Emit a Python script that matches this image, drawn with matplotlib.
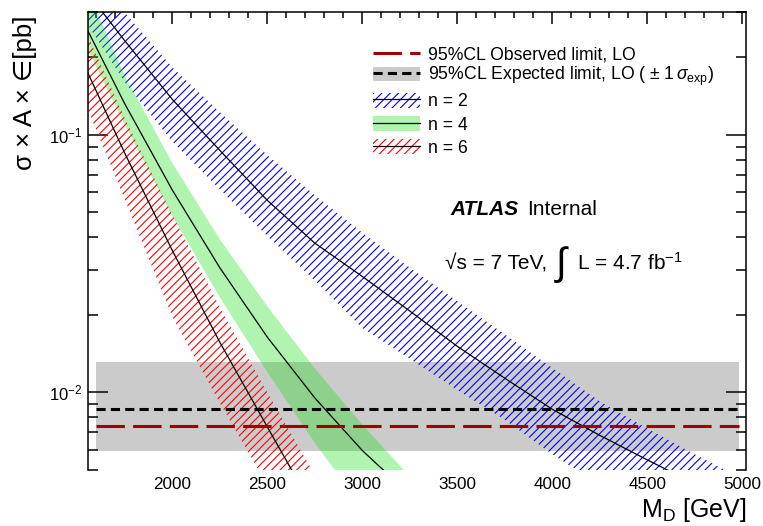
import matplotlib
matplotlib.use("Agg")
from matplotlib import pyplot as plt
from matplotlib.lines import Line2D
from matplotlib.patches import Patch
from matplotlib.ticker import MultipleLocator, LogLocator, NullFormatter

plt.rcParams["font.family"] = ["Liberation Sans", "DejaVu Sans"]
plt.rcParams["mathtext.fontset"] = "custom"
plt.rcParams["mathtext.rm"] = "Liberation Sans"
plt.rcParams["mathtext.it"] = "Liberation Sans:italic"
plt.rcParams["mathtext.bf"] = "Liberation Sans:bold"
plt.rcParams["hatch.linewidth"] = 0.8

# signal cross sections (pb) vs M_D (GeV)
md_n2 = [1500, 1750, 2000, 2250, 2500, 2750, 3000, 3250, 3500, 3750, 4000, 4250, 4500, 4750, 5000]
n2_central = [0.40, 0.232, 0.1374, 0.0871, 0.0557, 0.038, 0.0282, 0.0207, 0.0151, 0.01135,
              0.0086, 0.00681, 0.00547, 0.00442, 0.00359]
n2_upper = [0.51, 0.2985, 0.183, 0.1225, 0.0835, 0.0583, 0.0417, 0.0305, 0.0226, 0.0168,
            0.01245, 0.00923, 0.00724, 0.00575, 0.00462]
n2_lower = [0.31, 0.16, 0.0942, 0.0615, 0.0405, 0.0272, 0.0178, 0.0135, 0.01023, 0.00783,
            0.00575, 0.00437, 0.00339, 0.00269, 0.00214]

md_n4 = [1500, 1750, 2000, 2250, 2500, 2750, 3000, 3250]
n4_central = [0.306, 0.132, 0.0611, 0.0305, 0.0164, 0.00952, 0.00595, 0.00401]
n4_upper = [0.45, 0.17, 0.0778, 0.0393, 0.0216, 0.0124, 0.0075, 0.00471]
n4_lower = [0.26, 0.1096, 0.0485, 0.0234, 0.0120, 0.00637, 0.00359, 0.00225]

md_n6 = [1500, 1750, 2000, 2250, 2500, 2750]
n6_central = [0.214, 0.0849, 0.0356, 0.01567, 0.00735, 0.00347]
n6_upper = [0.30, 0.116, 0.049, 0.0214, 0.0100, 0.00479]
n6_lower = [0.158, 0.0562, 0.0197, 0.0091, 0.00435, 0.00204]

# model independent limits
limit_md = [1600, 4980]
obs_limit = [0.0074, 0.0074]
exp_limit = [0.0086, 0.0086]
exp_band_up = [0.0131, 0.0131]
exp_band_down = [0.0059, 0.0059]

obs_color = "#a00000"
band_grey = "#cbcbcb"
green = "#11e011"
green_alpha = 0.33

fig = plt.figure(figsize=(7.63, 5.26), dpi=100)
ax = fig.add_axes([0.1157, 0.1065, 0.8623, 0.8707])

ax.fill_between(limit_md, exp_band_down, exp_band_up, color=band_grey, lw=0, zorder=1)

ax.fill_between(md_n2, n2_lower, n2_upper, facecolor="none", edgecolor="#0000ff",
                hatch="////", lw=0, zorder=2)
ax.fill_between(md_n4, n4_lower, n4_upper, facecolor=green, alpha=green_alpha, lw=0, zorder=2)
ax.fill_between(md_n6, n6_lower, n6_upper, facecolor="none", edgecolor="#ff0000",
                hatch="////", lw=0, zorder=2)

for md, central in [(md_n2, n2_central), (md_n4, n4_central), (md_n6, n6_central)]:
    ax.plot(md, central, color="black", lw=0.9, zorder=3)

ax.plot(limit_md, exp_limit, color="black", lw=2.2, dashes=(3.0, 1.7), zorder=4)
ax.plot(limit_md, obs_limit, color=obs_color, lw=2.2, dashes=(9.3, 2.7), zorder=4)

ax.set_yscale("log")
ax.set_xlim(1558, 5020)
ax.set_ylim(0.005, 0.3)

ax.xaxis.set_major_locator(MultipleLocator(500))
ax.xaxis.set_minor_locator(MultipleLocator(100))
ax.yaxis.set_major_locator(LogLocator(base=10))
ax.yaxis.set_minor_locator(LogLocator(base=10, subs=range(2, 10)))
ax.yaxis.set_minor_formatter(NullFormatter())

ax.tick_params(axis="x", which="both", direction="in", top=True, bottom=False,
               labelbottom=True, labelsize=12.3, pad=4.8, width=1.1)
ax.tick_params(axis="x", which="major", length=8.4)
ax.tick_params(axis="x", which="minor", length=4.3)
ax.tick_params(axis="y", which="both", direction="in", left=True, right=True,
               labelsize=12, pad=4.5, width=1.1)
ax.tick_params(axis="y", which="major", length=14.4)
ax.tick_params(axis="y", which="minor", length=7.2)

for side in ["left", "right", "top"]:
    ax.spines[side].set_linewidth(1.1)
ax.spines["bottom"].set_visible(False)

ax.set_xlabel(r"M$_{\mathrm{D}}$ [GeV]", fontsize=18, loc="right")
ax.xaxis.set_label_coords(1.0007, -0.057)
ax.set_ylabel("σ × A × ∈[pb]", fontsize=18.5, loc="top")
ax.yaxis.set_label_coords(-0.078, 0.993)

# legends
h_obs = Line2D([], [], color=obs_color, lw=2.2, dashes=(9.3, 2.7))
h_exp = (Patch(facecolor=band_grey, edgecolor="none"),
         Line2D([], [], color="black", lw=2.2, dashes=(3.0, 1.7)))
leg1 = ax.legend([h_obs, h_exp],
                 ["95%CL Observed limit, LO",
                  r"95%CL Expected limit, LO ( $\pm$ 1$\,\sigma_{\mathrm{exp}}$)"],
                 loc="upper left", bbox_to_anchor=(0.433, 0.924), frameon=False,
                 fontsize=12.7, handlelength=2.67, handleheight=0.85,
                 handletextpad=0.45, labelspacing=0.05, borderpad=0, borderaxespad=0)
ax.add_artist(leg1)

h_n2 = (Patch(facecolor="none", edgecolor="#0000ff", hatch="////", lw=0),
        Line2D([], [], color="black", lw=0.9))
h_n4 = (Patch(facecolor=green, alpha=green_alpha, lw=0), Line2D([], [], color="black", lw=0.9))
h_n6 = (Patch(facecolor="none", edgecolor="#ff0000", hatch="////", lw=0),
        Line2D([], [], color="black", lw=0.9))
ax.legend([h_n2, h_n4, h_n6], ["n = 2", "n = 4", "n = 6"],
          loc="upper left", bbox_to_anchor=(0.433, 0.824), frameon=False,
          fontsize=12.7, handlelength=2.67, handleheight=0.95,
          handletextpad=0.45, labelspacing=0.32, borderpad=0, borderaxespad=0)

# labels
ax.text(0.55, 0.557, "ATLAS", transform=ax.transAxes, fontsize=15,
        fontweight="bold", fontstyle="italic", va="baseline")
ax.text(0.667, 0.557, "Internal", transform=ax.transAxes, fontsize=15, va="baseline")
ax.text(0.542, 0.437, "√s = 7 TeV,", transform=ax.transAxes, fontsize=15, va="baseline")
ax.text(0.711, 0.425, "∫", transform=ax.transAxes, fontsize=28, va="baseline")
ax.text(0.7425, 0.437, r"L = 4.7 fb$^{-1}$", transform=ax.transAxes, fontsize=15,
        va="baseline")

fig.savefig("out.png", dpi=100)
